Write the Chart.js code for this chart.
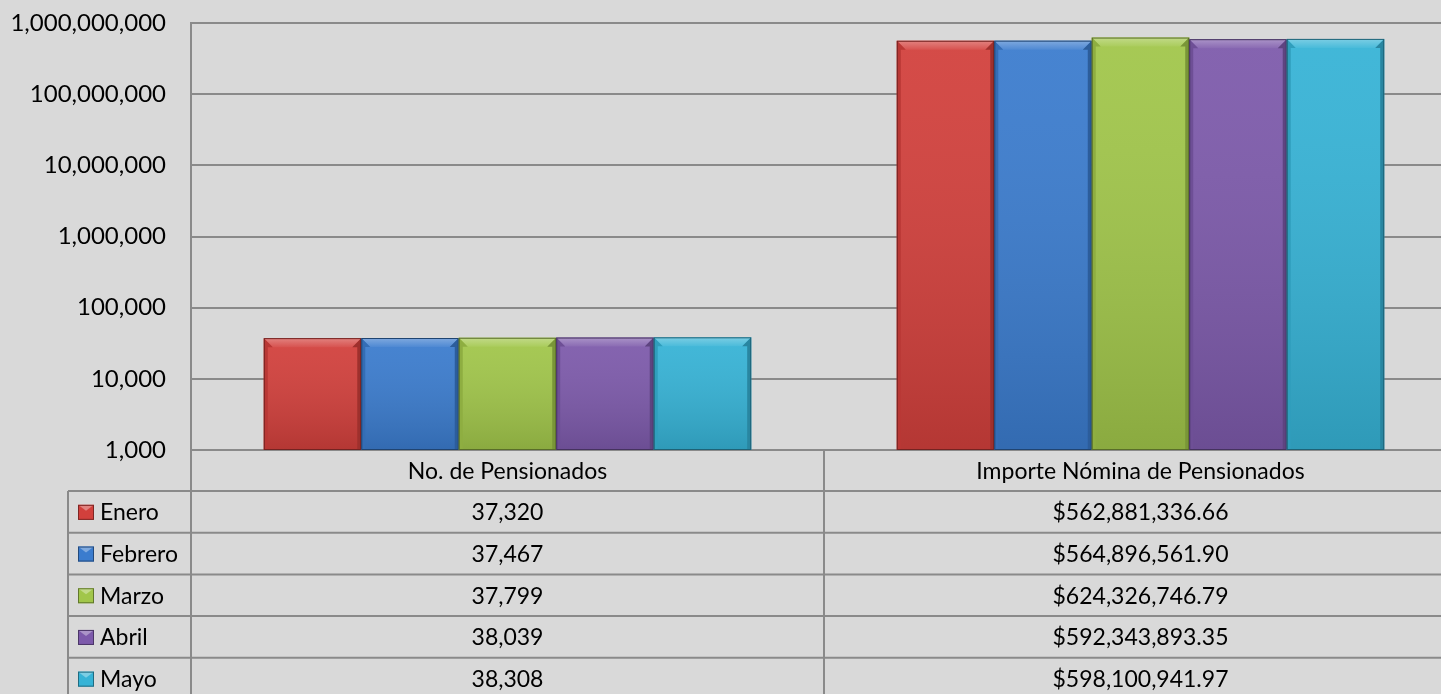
<!DOCTYPE html>
<html>
<head>
<meta charset="utf-8">
<script src="https://cdn.jsdelivr.net/npm/chart.js@4.4.0/dist/chart.umd.min.js"></script>
<style>
html, body { margin: 0; padding: 0; background: #d9d9d9; overflow: hidden; }
#wrap { width: 1457px; height: 694px; }
</style>
</head>
<body>
<div id="wrap"><canvas id="chart" width="1457" height="694"></canvas></div>
<script>
// data
const categories = ["No. de Pensionados", "Importe Nómina de Pensionados"];
const months = ["Enero", "Febrero", "Marzo", "Abril", "Mayo"];
const pensionados = [37320, 37467, 37799, 38039, 38308];
const importe = [562881336.66, 564896561.90, 624326746.79, 592343893.35, 598100941.97];
const yTicks = [1000, 10000, 100000, 1000000, 10000000, 100000000, 1000000000];
const colors = ["#d2403c", "#3b7cce", "#a1c64a", "#7d5aab", "#36b3d6"];

const FONT = "Lato";
const FONT_SIZE = 23;
const LINE = "#8a8a8a";

function fmtCount(v) { return v.toLocaleString("en-US"); }
function fmtMoney(v) {
    return "$" + v.toLocaleString("en-US", { minimumFractionDigits: 2, maximumFractionDigits: 2 });
}

function shade(hex, amt) {
    let r = parseInt(hex.slice(1, 3), 16), g = parseInt(hex.slice(3, 5), 16), b = parseInt(hex.slice(5, 7), 16);
    const f = c => Math.max(0, Math.min(255, Math.round(amt >= 0 ? c + (255 - c) * amt : c * (1 + amt))));
    return "rgb(" + f(r) + "," + f(g) + "," + f(b) + ")";
}

// bevel look on the bars
const bevelPlugin = {
    id: "bevel",
    afterDatasetsDraw(chart) {
        const ctx = chart.ctx;
        chart.data.datasets.forEach((ds, di) => {
            const meta = chart.getDatasetMeta(di);
            meta.data.forEach(bar => {
                const l = bar.x - bar.width / 2, r = bar.x + bar.width / 2;
                const t = bar.y, b = bar.base, e = 9;
                const c = colors[di];
                ctx.save();
                const g = ctx.createLinearGradient(0, t, 0, b);
                g.addColorStop(0, "rgba(255,255,255,0.06)");
                g.addColorStop(1, "rgba(0,0,0,0.14)");
                ctx.fillStyle = g;
                ctx.fillRect(l, t, r - l, b - t);
                // top facet
                const tg = ctx.createLinearGradient(0, t, 0, t + e);
                tg.addColorStop(0, shade(c, 0.35));
                tg.addColorStop(1, shade(c, 0.1));
                ctx.fillStyle = tg;
                ctx.beginPath();
                ctx.moveTo(l, t); ctx.lineTo(r, t); ctx.lineTo(r - e, t + e); ctx.lineTo(l + e, t + e);
                ctx.closePath(); ctx.fill();
                // right facet
                ctx.fillStyle = shade(c, -0.25);
                ctx.beginPath();
                ctx.moveTo(r, t); ctx.lineTo(r, b); ctx.lineTo(r - 4, b); ctx.lineTo(r - 4, t + e); ctx.lineTo(r - e, t + e);
                ctx.closePath(); ctx.fill();
                // left facet
                ctx.fillStyle = shade(c, -0.12);
                ctx.beginPath();
                ctx.moveTo(l, t); ctx.lineTo(l + e, t + e); ctx.lineTo(l + 4, t + e); ctx.lineTo(l + 4, b); ctx.lineTo(l, b);
                ctx.closePath(); ctx.fill();
                ctx.strokeStyle = shade(c, -0.45);
                ctx.lineWidth = 1;
                ctx.strokeRect(l + 0.5, t + 0.5, r - l - 1, b - t - 1);
                ctx.restore();
            });
        });
    }
};

// data table under the plot
const tablePlugin = {
    id: "dataTable",
    afterDraw(chart) {
        const ctx = chart.ctx;
        const area = chart.chartArea;
        const x = chart.scales.x;
        const legendLeft = 68;
        const headTop = area.bottom;
        const headH = 41;
        const rowH = 41.7;
        const bottom = chart.height + 10;
        const half = (x.getPixelForValue(1) - x.getPixelForValue(0)) / 2;
        const bounds = [x.getPixelForValue(0) - half, x.getPixelForValue(0) + half, x.getPixelForValue(1) + half];

        ctx.save();
        ctx.strokeStyle = LINE;
        ctx.lineWidth = 2;
        ctx.beginPath();
        // verticals
        ctx.moveTo(legendLeft, headTop + headH); ctx.lineTo(legendLeft, bottom);
        ctx.moveTo(area.left, headTop); ctx.lineTo(area.left, bottom);
        ctx.moveTo(bounds[1], headTop); ctx.lineTo(bounds[1], bottom);
        ctx.moveTo(bounds[2], headTop); ctx.lineTo(bounds[2], bottom);
        // horizontals
        for (let i = 0; i <= months.length; i++) {
            const y = headTop + headH + i * rowH;
            ctx.moveTo(legendLeft, y); ctx.lineTo(bounds[2], y);
        }
        ctx.stroke();

        ctx.fillStyle = "#000";
        ctx.font = FONT_SIZE + "px " + FONT;
        ctx.textBaseline = "middle";
        ctx.textAlign = "center";
        categories.forEach((c, i) => {
            ctx.fillText(c, x.getPixelForValue(i), headTop + headH / 2 + 1);
        });
        months.forEach((m, i) => {
            const cy = headTop + headH + i * rowH + rowH / 2 + 1;
            ctx.textAlign = "center";
            ctx.fillText(fmtCount(pensionados[i]), x.getPixelForValue(0), cy);
            ctx.fillText(fmtMoney(importe[i]), x.getPixelForValue(1), cy);
            // legend key
            const kx = 78, ky = cy - 8, kw = 16, kh = 15;
            const c = colors[i];
            ctx.fillStyle = c;
            ctx.fillRect(kx, ky, kw, kh);
            ctx.fillStyle = shade(c, 0.35);
            ctx.beginPath();
            ctx.moveTo(kx, ky); ctx.lineTo(kx + kw, ky); ctx.lineTo(kx + kw / 2, ky + 6);
            ctx.closePath(); ctx.fill();
            ctx.strokeStyle = shade(c, -0.4);
            ctx.lineWidth = 1;
            ctx.strokeRect(kx + 0.5, ky + 0.5, kw - 1, kh - 1);
            ctx.fillStyle = "#000";
            ctx.textAlign = "left";
            ctx.fillText(m, 100, cy);
        });
        ctx.restore();
    }
};

const datasets = months.map((m, i) => ({
    label: m,
    data: [pensionados[i], importe[i]],
    backgroundColor: colors[i],
    borderWidth: 0,
    categoryPercentage: 0.77,
    barPercentage: 1.0
}));

new Chart(document.getElementById("chart"), {
    type: "bar",
    data: { labels: categories, datasets: datasets },
    options: {
        responsive: false,
        animation: false,
        devicePixelRatio: 1,
        layout: { padding: { top: 23, left: 0, right: 0, bottom: 244 } },
        plugins: { legend: { display: false }, tooltip: { enabled: false } },
        scales: {
            x: { display: false },
            y: {
                type: "logarithmic",
                min: 1000,
                max: 1000000000,
                afterFit(scale) {
                    scale.width = 191;
                    scale.paddingTop = 0;
                    scale.paddingBottom = 0;
                },
                afterBuildTicks(scale) { scale.ticks = yTicks.map(v => ({ value: v })); },
                ticks: {
                    padding: 25,
                    color: "#000",
                    font: { family: FONT, size: 24 },
                    callback: v => fmtCount(v)
                },
                grid: { color: LINE, lineWidth: 2, drawTicks: false },
                border: { color: LINE, width: 2 }
            }
        }
    },
    plugins: [bevelPlugin, tablePlugin]
});
</script>
</body>
</html>
